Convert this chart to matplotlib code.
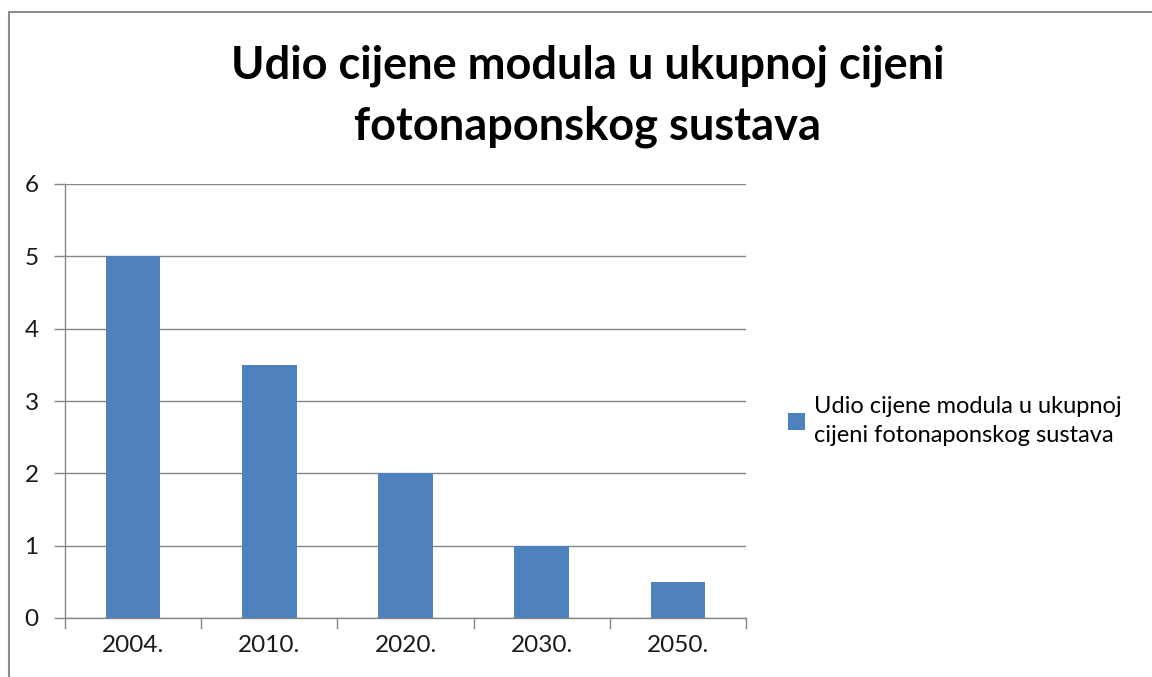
import matplotlib.pyplot as plt
import matplotlib.patches as mpatches

plt.rcParams['font.family'] = ['Lato', 'DejaVu Sans']

#> Data
years = ['2004.', '2010.', '2020.', '2030.', '2050.']
udio = [5, 3.5, 2, 1, 0.5]
seriesName = 'Udio cijene modula u ukupnoj\ncijeni fotonaponskog sustava'
titleText = 'Udio cijene modula u ukupnoj cijeni\nfotonaponskog sustava'

barColor = '#4F81BD'
gridColor = '#868686'

fig = plt.figure(figsize=(11.52, 6.77), dpi=100)
ax = fig.add_axes([65 / 1152, 1 - 618 / 677, (746 - 65) / 1152, (618 - 184) / 677])

#> chart border
fig.patches.append(mpatches.Rectangle((9 / 1152, -0.05), 1.2, 1 - 12 / 677 + 0.05,
                                      transform=fig.transFigure, fill=False,
                                      edgecolor='#8c8c8c', linewidth=1.5))

xPos = list(range(len(years)))
ax.bar(xPos, udio, width=0.4, color=barColor, label=seriesName, zorder=3)

ax.set_xlim(-0.5, len(years) - 0.5)
ax.set_ylim(0, 6)
ax.set_yticks(range(0, 7))
ax.set_xticks(xPos, years)
ax.set_xticks([i - 0.5 for i in range(len(years) + 1)], minor=True)
ax.tick_params(axis='x', which='major', length=0, pad=12, labelsize=17.5, labelcolor='#1a1a1a')
ax.tick_params(axis='x', which='minor', length=8, color=gridColor, width=1)
ax.tick_params(axis='y', length=8, color=gridColor, width=1, pad=11, labelsize=17.5, labelcolor='#1a1a1a')
ax.grid(True, axis='y', color=gridColor, linewidth=1, zorder=0)
for side in ['top', 'right']:
    ax.spines[side].set_visible(False)
for side in ['left', 'bottom']:
    ax.spines[side].set_color(gridColor)
    ax.spines[side].set_linewidth(1)

fig.text(588 / 1152, 1 - 96 / 677, titleText, ha='center', va='center', fontsize=32.5,
         fontweight='bold', linespacing=1.55)

leg = fig.legend(loc='center left', bbox_to_anchor=(788 / 1152, 1 - 421 / 677), frameon=False,
                 fontsize=17, handlelength=0.7, handleheight=0.7, handletextpad=0.4,
                 borderpad=0, borderaxespad=0)
leg.get_texts()[0].set_linespacing(1.5)

fig.savefig('out.png', dpi=100)
